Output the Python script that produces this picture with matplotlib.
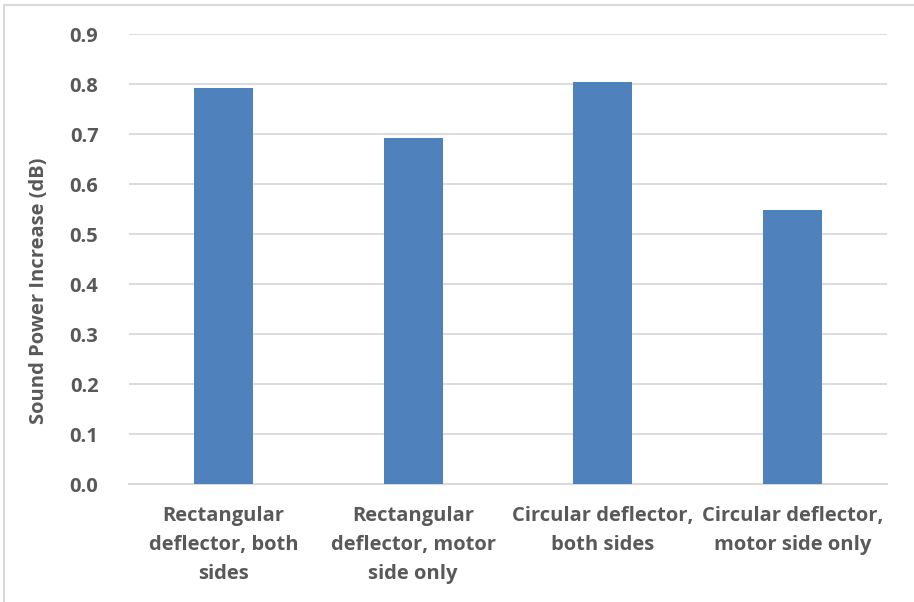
import matplotlib.pyplot as plt
from matplotlib.patches import Rectangle

# 各工况下的声功率增量
categories = ['Rectangular\ndeflector, both\nsides',
              'Rectangular\ndeflector, motor\nside only',
              'Circular deflector,\nboth sides',
              'Circular deflector,\nmotor side only']
increase = [0.792, 0.693, 0.805, 0.548]
yticks = [0.0, 0.1, 0.2, 0.3, 0.4, 0.5, 0.6, 0.7, 0.8, 0.9]

plt.rcParams['font.family'] = ['Open Sans', 'DejaVu Sans']
plt.rcParams['font.weight'] = 'bold'
txt = '#595959'
grid = '#d9d9d9'

fig = plt.figure(figsize=(9.14, 6.02), dpi=100)
ax = fig.add_axes([129 / 914, 1 - 484 / 602, 758 / 914, 450 / 602])

x = range(len(categories))
ax.bar(x, increase, width=0.31, color='#4f81bd', zorder=3)

ax.set_xlim(-0.5, len(categories) - 0.5)
ax.set_ylim(0, 0.9)
ax.set_yticks(yticks)
ax.set_yticklabels(['%.1f' % v for v in yticks])
ax.set_xticks(list(x))
ax.set_xticklabels(categories, linespacing=1.6)

ax.grid(axis='y', color=grid, linewidth=1.3, zorder=0)
for s in ['top', 'right', 'left']:
    ax.spines[s].set_visible(False)
ax.spines['bottom'].set_color(grid)
ax.spines['bottom'].set_linewidth(1.5)
ax.tick_params(axis='y', length=0, pad=22, labelsize=14.5, labelcolor=txt)
ax.tick_params(axis='x', length=0, pad=16, labelsize=14.5, labelcolor=txt)

ax.set_ylabel('Sound Power Increase (dB)', fontsize=14.5, color=txt, fontweight='bold')
ax.yaxis.set_label_coords(-0.105, 0.43)

# 图表外框
fig.patches.append(Rectangle((4 / 914, -0.01), 1.0, 1 - 5 / 602 + 0.01,
                             transform=fig.transFigure, fill=False,
                             edgecolor=grid, linewidth=1.5))

plt.savefig('out.png', dpi=100)
